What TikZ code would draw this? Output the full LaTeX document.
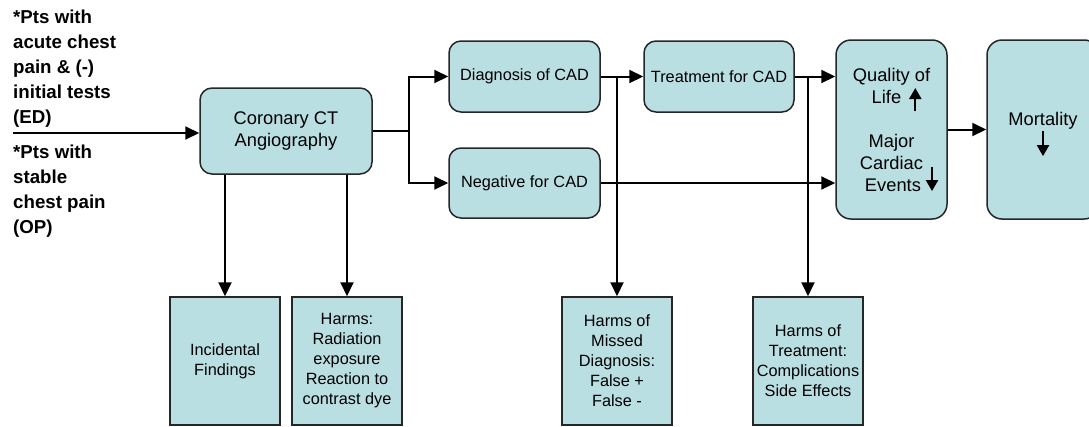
\documentclass[tikz,border=0pt]{standalone}
\usepackage{fontspec}
\setmainfont{Liberation Sans}
\usetikzlibrary{arrows.meta}
\definecolor{boxfill}{RGB}{185,223,227}
\tikzset{>={Triangle[length=14pt,width=13pt]}}
\tikzset{
  box/.style={draw=black!85, line width=1.5pt, fill=boxfill, align=center, inner sep=2pt,
    font=\fontsize{16.3}{20}\selectfont},
  rbox/.style={box, rounded corners=12pt},
  bigtxt/.style={font=\fontsize{18.3}{22}\selectfont},
  flow/.style={line width=2pt, draw=black},
  pts/.style={align=left, inner sep=0pt, font=\fontsize{18.7}{25}\bfseries\selectfont}
}
\newcommand{\vertarr}[2]{\smash{\tikz[baseline=0pt]\draw[-{Triangle[length=11pt,width=12pt]},flow,line width=2.2pt,rounded corners=0pt] (0pt,#1)--(0pt,#2);}}

\begin{document}
\begin{tikzpicture}[x=1pt,y=-1pt]
\useasboundingbox (0,0) rectangle (1089,426);

% who gets the test
\node[pts,anchor=west] (ed) at (13,69) {*Pts with\\acute chest\\pain \& (-)\\initial tests\\(ED)};
\node[pts,anchor=west] (op) at (13,191.5) {*Pts with\\stable\\chest pain\\(OP)};
\coordinate (start) at (13,133);

% main row
\node[rbox,bigtxt,minimum width=172pt,minimum height=86pt] (ct) at (286,131) {Coronary CT\\Angiography};
\node[rbox,minimum width=151pt,minimum height=71pt] (diag) at (524.5,76.5) {Diagnosis of CAD};
\node[rbox,minimum width=151pt,minimum height=70pt] (neg) at (524.5,183) {Negative for CAD};
\node[rbox,minimum width=150pt,minimum height=71pt] (treat) at (719,76.5) {Treatment for CAD};
\node[rbox,bigtxt,rounded corners=15pt,minimum width=111pt,minimum height=179pt] (qol) at (891.5,129.5)
  {Quality of\\\hspace*{10pt}Life\ \hspace{3pt}\vertarr{-8pt}{15pt}\\[22pt]Major\\Cardiac\\
   \hspace*{20pt}Events\ \vertarr{24pt}{0pt}};
\node[rbox,bigtxt,rounded corners=15pt,minimum width=112pt,minimum height=179pt] (mort) at (1043,129.5)
  {Mortality\\\vertarr{16pt}{-9pt}};

% harms and findings
\node[box,minimum width=110pt,minimum height=128pt] (incid) at (225,361) {Incidental\\Findings};
\node[box,minimum width=110pt,minimum height=128pt] (radharm) at (347,361)
  {Harms:\\Radiation\\exposure\\Reaction to\\contrast dye};
\node[box,minimum width=110pt,minimum height=128pt] (missed) at (617,361)
  {Harms of\\Missed\\Diagnosis:\\False +\\False -};
\node[box,minimum width=110pt,minimum height=128pt] (txharm) at (808,361)
  {Harms of\\Treatment:\\Complications\\Side Effects};

% connectors
\coordinate (split) at (409,131);
\coordinate (br1) at (617,76.5);
\coordinate (br2) at (808,76.5);
\draw[flow,->] (start) -- (start -| ct.west);
\draw[line width=1.2pt] (ct.east) -- (split);
\draw[flow,->] (split) |- (diag.west);
\draw[flow,->] (split) |- (neg.west);
\draw[flow,->] (diag) -- (treat);
\draw[flow,->] (br1) -- (missed.north);
\draw[flow,->] (treat.east) -- (treat.east -| qol.west);
\draw[flow,->] (br2) -- (txharm.north);
\draw[flow,->] (neg.east) -- (neg.east -| qol.west);
\draw[flow,->] (qol) -- (mort);
\draw[flow,->] (ct.south -| incid.north) -- (incid.north);
\draw[flow,->] (ct.south -| radharm.north) -- (radharm.north);
\end{tikzpicture}
\end{document}
